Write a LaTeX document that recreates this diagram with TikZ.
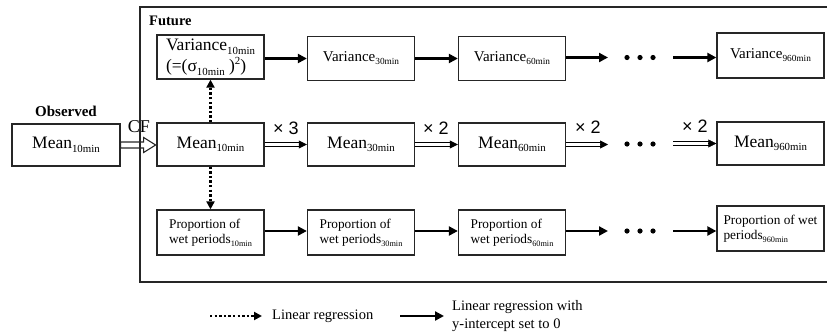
\documentclass[tikz,border=0pt]{standalone}
\usepackage{fontspec}
\setmainfont{Liberation Serif}
\newfontfamily\arialf{Liberation Sans}
\usetikzlibrary{arrows.meta,calc}
\newcommand\lo[1]{\raisebox{-.45ex}{\scalebox{.62}{#1}}}
\newcommand\hi[1]{\raisebox{.85ex}{\scalebox{.62}{#1}}}
\begin{document}
\begin{tikzpicture}[x=1pt,y=-1pt,
  box/.style={draw=black!85, line width=1.3pt, minimum width=107pt, minimum height=44pt, inner sep=0pt, align=left},
  fbig/.style={font=\fontsize{17.5}{21}\selectfont},
  fmid/.style={font=\fontsize{15}{17}\selectfont},
  fsml/.style={font=\fontsize{13.3}{15.5}\selectfont},
  solidarr/.style={draw=black, line width=2.2pt, -{Triangle[length=9pt,width=9pt]}},
  dotarr/.style={draw=black, line width=2.4pt, dash pattern=on 2.4pt off 2.2pt, -{Triangle[length=8pt,width=8pt]}},
  dblline/.style={draw=black, line width=.9pt, shorten >=6pt},
  dbltip/.style={draw=black, line width=.5pt, -{Triangle[length=8pt,width=8pt]}},
  mult/.style={font=\arialf\fontsize{18}{20}\selectfont, inner sep=0pt},
  legtxt/.style={font=\fontsize{14.5}{18.3}\selectfont, inner sep=0pt, anchor=west, align=left},
  dotmark/.style={fill=black}
]
\useasboundingbox (0,0) rectangle (827,333);

% Observed
\node[font=\bfseries\fontsize{15}{17}\selectfont, inner sep=0pt] (obslab) at (66,111) {Observed};
\node[box, fbig, minimum width=108pt, minimum height=42pt] (obs) at (66,145) {Mean\lo{10min}};

% CF hollow arrow
\draw[draw=black!85, line width=1.1pt, fill=white]
  (obs.east) ++(0,-3) -- ++(23,0) -- ++(0,-4.5) -- ++(12,7.5) -- ++(-12,7.5) -- ++(0,-4.5) -- ++(-23,0) -- cycle;
\node[font=\fontsize{18}{20}\selectfont, inner sep=0pt] (cf) at (139,127) {CF};

% Future frame
\draw[draw=black!85, line width=1.3pt] (827,7) -- (140,7) -- (140,282) -- (827,282);
\node[font=\bfseries\fontsize{14.5}{16}\selectfont, inner sep=0pt, anchor=west] (futlab) at (149,21) {Future};

% Variance row
\node[box, fbig] (v10) at (210.5,57) {Variance\lo{10min}\\(=(σ\lo{10min} )\hi{2})};
\node[box, fmid] (v30) at (361,58.5) {Variance\lo{30min}};
\node[box, fmid] (v60) at (512,58.5) {Variance\lo{60min}};
\node[box, fmid, minimum height=45pt] (v960) at (770.5,55.5) {Variance\lo{960min}};

% Mean row
\node[box, fbig, minimum height=43pt] (m10) at (210.5,144.5) {Mean\lo{10min}};
\node[box, fbig, minimum height=43pt] (m30) at (361,144.5) {Mean\lo{30min}};
\node[box, fbig, minimum height=43pt] (m60) at (512,144.5) {Mean\lo{60min}};
\node[box, fbig, minimum height=43pt] (m960) at (770.5,143.5) {Mean\lo{960min}};

% Proportion row
\node[box, fsml, minimum height=45pt] (p10) at (210.5,232.5) {Proportion of\\wet periods\lo{10min}};
\node[box, fsml, minimum height=45pt] (p30) at (361,232.5) {Proportion of\\wet periods\lo{30min}};
\node[box, fsml, minimum height=45pt] (p60) at (512,232.5) {Proportion of\\wet periods\lo{60min}};
\node[box, fsml, minimum height=45pt] (p960) at (770.5,228.5) {Proportion of wet\\periods\lo{960min}};

% coordinates for the gaps
\coordinate (a1) at (608,57.5);  \coordinate (b1) at (673,57.5);
\coordinate (a2) at (608,144.5); \coordinate (b2) at (673,143.5);
\coordinate (a3) at (608,231);   \coordinate (b3) at (673,231);
\foreach \yy in {57.5,144,231}{
  \foreach \xx in {627,640,653}{\fill[dotmark] (\xx,\yy) circle (2.6pt);}
}

% Variance arrows
\draw[solidarr] (v10.east |- v30.west) -- (v30.west);
\draw[solidarr] (v30.east) -- (v60.west);
\draw[solidarr] (v60.east |- a1) -- (a1);
\draw[solidarr] (b1) -- (v960.west |- b1);

% Proportion arrows
\draw[solidarr] (p10.east |- a3) -- (p30.west |- a3);
\draw[solidarr] (p30.east |- a3) -- (p60.west |- a3);
\draw[solidarr] (p60.east |- a3) -- (a3);
\draw[solidarr] (b3) -- (p960.west |- b3);

% Mean double arrows
\foreach \s/\e in {m10/m30, m30/m60}{
  \draw[dblline] ([yshift=1.7pt]\s.east) -- ([yshift=1.7pt]\e.west);
  \draw[dblline] ([yshift=-1.7pt]\s.east) -- ([yshift=-1.7pt]\e.west);
  \draw[dbltip] ([xshift=-8pt]\e.west) -- (\e.west);
}
\draw[dblline] ([yshift=1.7pt]m60.east) -- ([yshift=1.7pt]a2);
\draw[dblline] ([yshift=-1.7pt]m60.east) -- ([yshift=-1.7pt]a2);
\draw[dbltip] ([xshift=-8pt]a2) -- (a2);
\draw[dblline] ([yshift=1.7pt]b2) -- ([yshift=1.7pt]m960.west);
\draw[dblline] ([yshift=-1.7pt]b2) -- ([yshift=-1.7pt]m960.west);
\draw[dbltip] ([xshift=-8pt]m960.west) -- (m960.west);

% multipliers
\node[mult] (x1) at (286,128) {× 3};
\node[mult] (x2) at (436,128) {× 2};
\node[mult] (x3) at (588,127) {× 2};
\node[mult] (x4) at (695,126) {× 2};

% dotted regressions
\draw[dotarr] (m10.north) -- (v10.south);
\draw[dotarr] (m10.south) -- (p10.north);

% legend
\coordinate (l1s) at (210,316); \coordinate (l1e) at (262,316);
\draw[dotarr] (l1s) -- (l1e);
\node[legtxt] (l1t) at (272,316) {Linear regression};
\coordinate (l2s) at (400,316); \coordinate (l2e) at (444,316);
\draw[solidarr] (l2s) -- (l2e);
\node[legtxt] (l2t) at (452,316) {Linear regression with\\y-intercept set to 0};
\end{tikzpicture}
\end{document}
